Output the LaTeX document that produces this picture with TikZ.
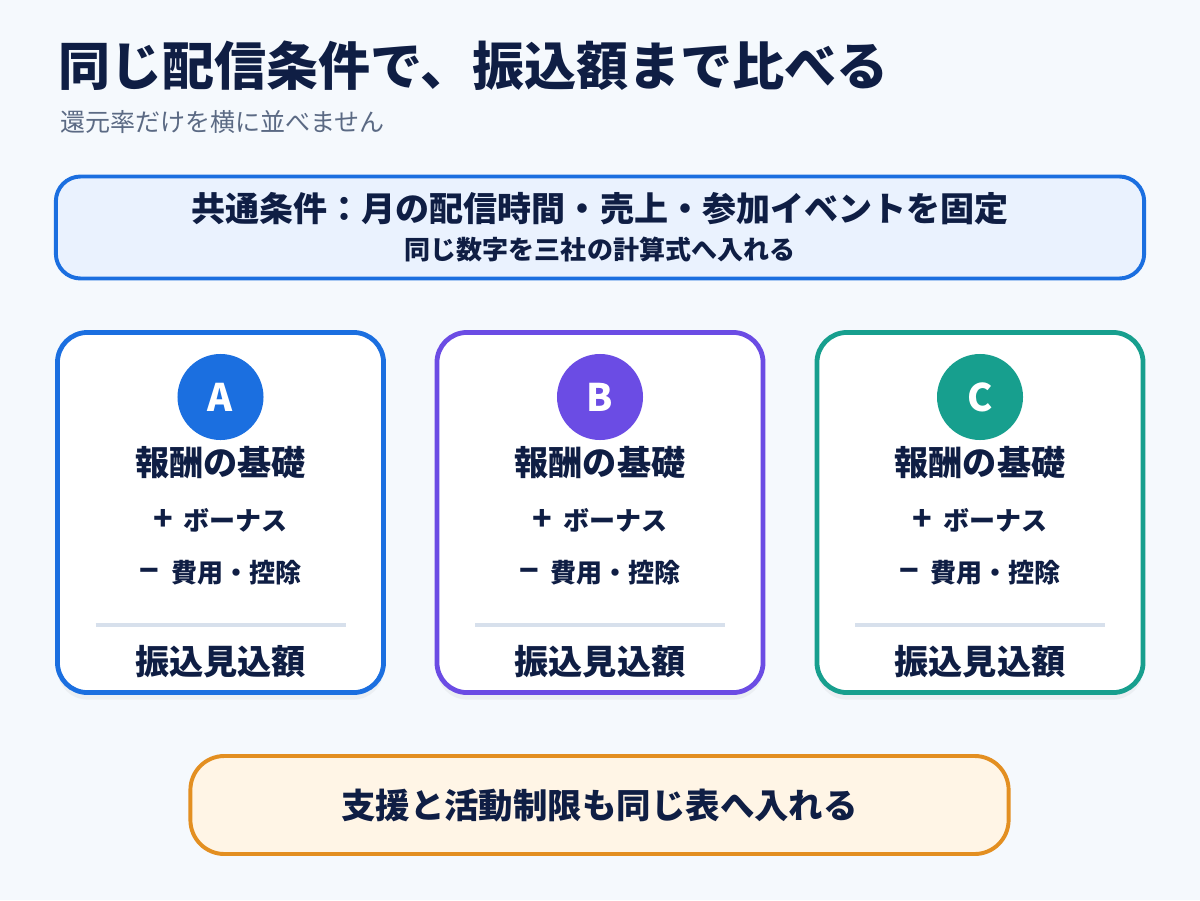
\documentclass[tikz,border=0pt]{standalone}
\usepackage{fontspec}
\setmainfont{Noto Sans CJK JP}
\usetikzlibrary{shadows}
\definecolor{ink}{HTML}{0F1E44}
\definecolor{subink}{HTML}{5B6A84}
\definecolor{bgpage}{HTML}{F5F9FD}
\definecolor{blueA}{HTML}{1B6FE0}
\definecolor{purpB}{HTML}{6B4CE4}
\definecolor{tealC}{HTML}{179F8E}
\definecolor{bluefill}{HTML}{EAF2FE}
\definecolor{orng}{HTML}{E38F21}
\definecolor{orngfill}{HTML}{FFF5E6}
\definecolor{rulegray}{HTML}{D7E0EC}

\begin{document}
\begin{tikzpicture}[x=0.025cm, y=-0.025cm,
  card/.style={draw=#1, line width=3.4pt, fill=white, rounded corners=0.75cm,
    minimum width=8.15cm, minimum height=9.0cm,
    drop shadow={opacity=0.08, shadow xshift=0pt, shadow yshift=-5pt}},
  badge/.style={circle, fill=#1, minimum size=2.15cm, text=white,
    font=\bfseries\fontsize{27}{27}\selectfont},
  headtxt/.style={text=ink, font=\bfseries\fontsize{24.3}{26}\selectfont},
  itemtxt/.style={text=ink, font=\bfseries\fontsize{18.5}{20}\selectfont}]
  % page
  \fill[bgpage] (0,0) rectangle (1200,900);
  \useasboundingbox (0,0) rectangle (1200,900);
  % title
  \node[anchor=west, inner sep=0, text=ink, font=\bfseries\fontsize{37}{40}\selectfont]
    (title) at (58,66) {同じ配信条件で、振込額まで比べる};
  \node[anchor=west, inner sep=0, text=subink, font=\fontsize{17.8}{20}\selectfont]
    (subtitle) at (60,122) {還元率だけを横に並べません};
  % common conditions
  \node[draw=blueA, line width=2.8pt, fill=bluefill, rounded corners=0.62cm,
    minimum width=27.2cm, minimum height=2.55cm] (common) at (600,227.5) {};
  \node[text=ink, font=\bfseries\fontsize{24.2}{26}\selectfont]
    (commonhead) at (600,209) {共通条件：月の配信時間・売上・参加イベントを固定};
  \node[text=ink, font=\bfseries\fontsize{18.5}{20}\selectfont]
    (commonsub) at (600,250) {同じ数字を三社の計算式へ入れる};
  % three cards
  \foreach \nm/\cx/\col in {A/220.5/blueA, B/600/purpB, C/980/tealC}{
    \node[card=\col] (card\nm) at (\cx,512.5) {};
    \node[badge=\col] (badge\nm) at (\cx,397) {\nm};
    \node[headtxt] (base\nm) at (\cx,463) {報酬の基礎};
    \node[itemtxt] (bonus\nm) at (\cx,520) {{\fontsize{23}{20}\selectfont +}\hspace{0.4em}ボーナス};
    \node[itemtxt] (cost\nm) at (\cx,573) {{\fontsize{23}{20}\selectfont −}\hspace{0.45em}費用・控除};
    \draw[rulegray, line width=2.8pt] (\cx-125,625) coordinate (ruleL\nm)
      -- (\cx+125,625) coordinate (ruleR\nm);
    \node[headtxt] (net\nm) at (\cx,662) {振込見込額};
  }
  % note
  \node[draw=orng, line width=2.8pt, fill=orngfill, rounded corners=0.85cm,
    minimum width=20.45cm, minimum height=2.45cm] (note) at (599.5,805) {};
  \node[text=ink, font=\bfseries\fontsize{24.5}{26}\selectfont]
    (notetxt) at (599.5,806) {支援と活動制限も同じ表へ入れる};
\end{tikzpicture}
\end{document}
